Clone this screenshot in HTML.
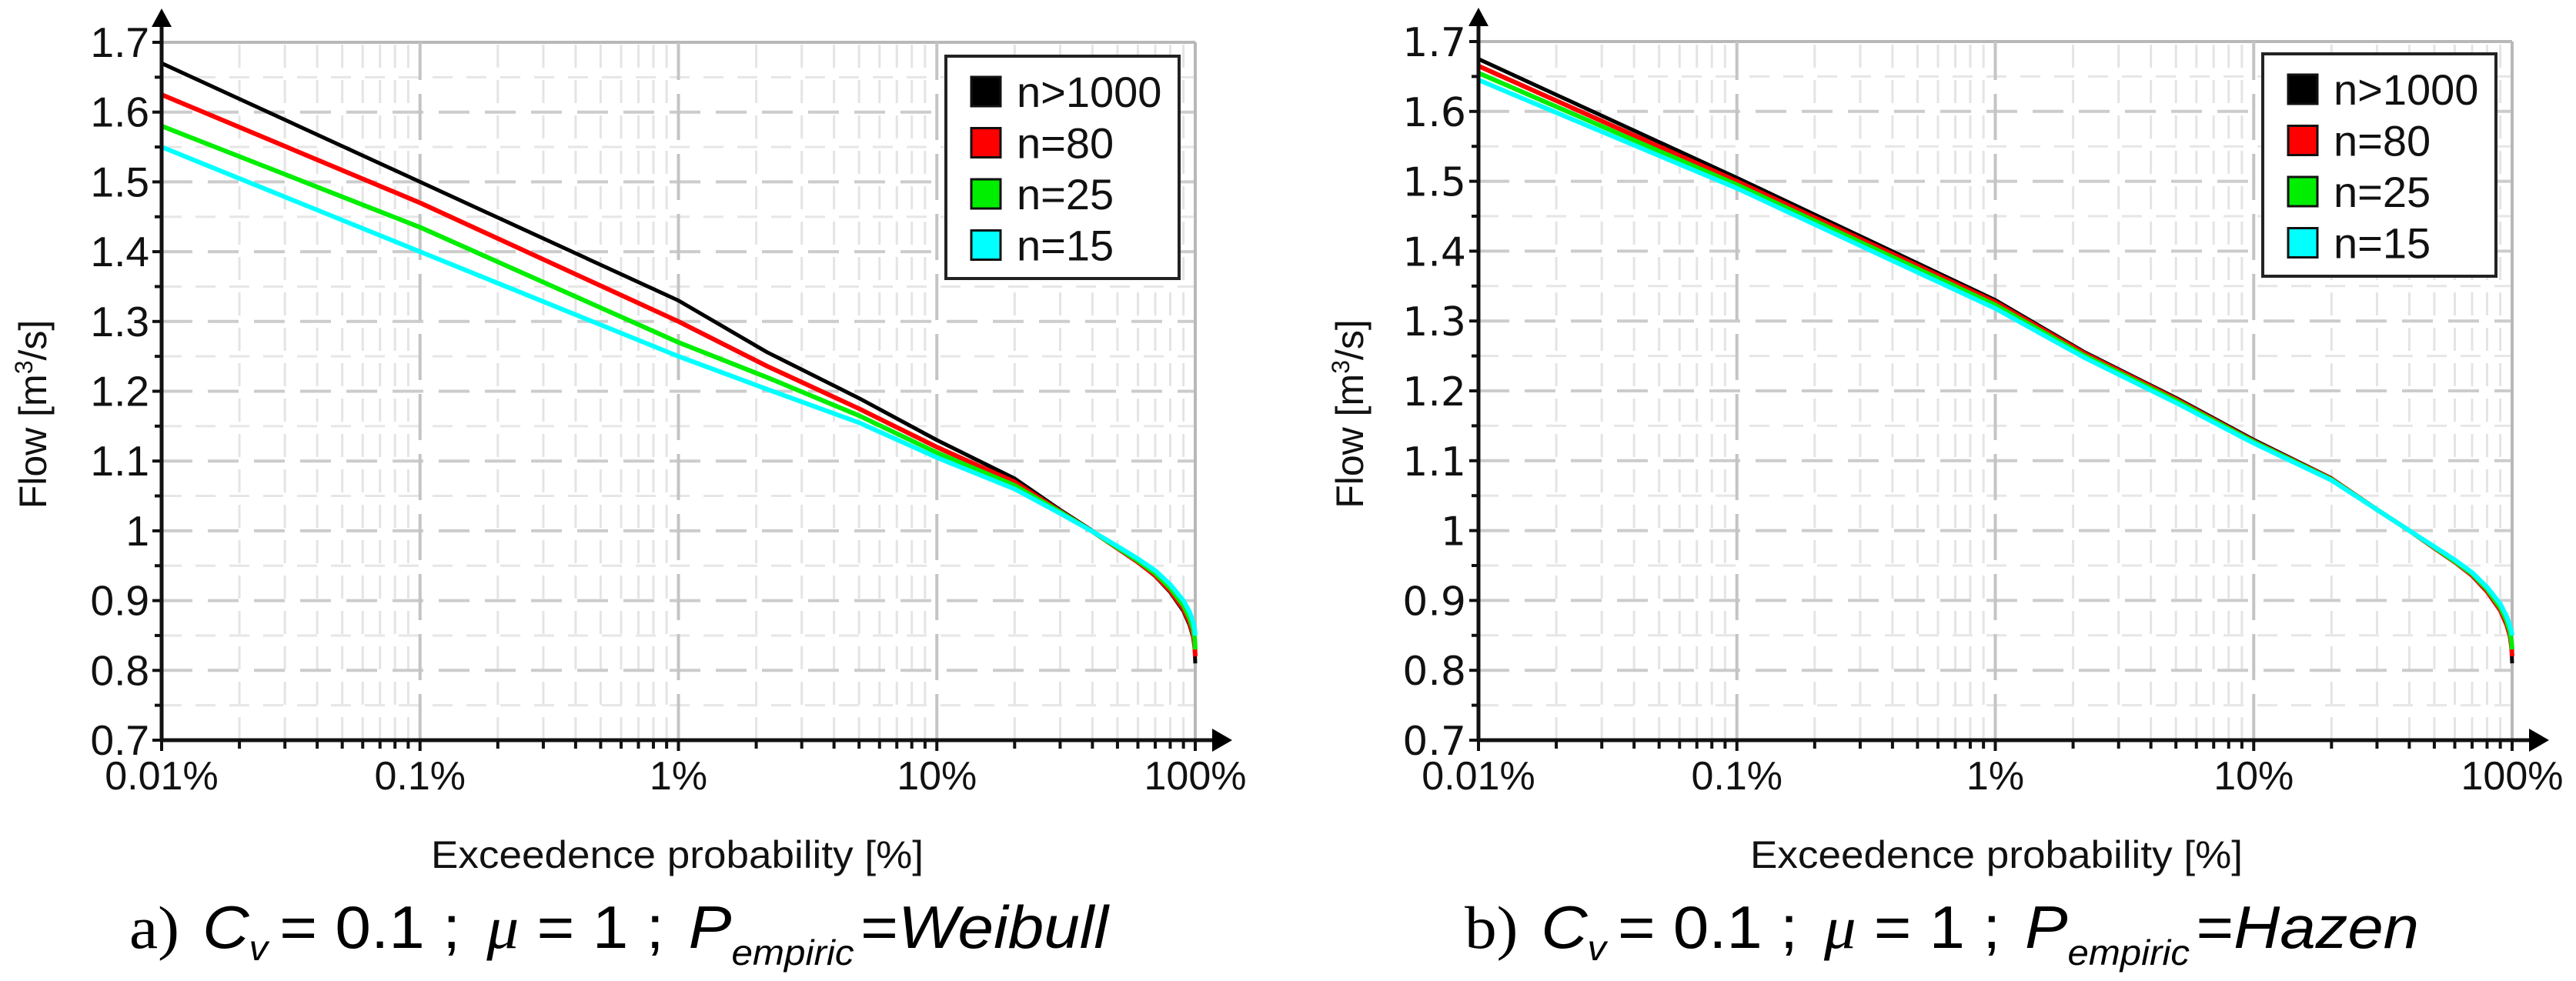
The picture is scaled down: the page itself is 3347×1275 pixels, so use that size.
<!DOCTYPE html>
<html><head><meta charset="utf-8"><style>
html,body{margin:0;padding:0;background:#fff;}
svg{display:block;}
</style></head><body>
<svg id="fig" xmlns="http://www.w3.org/2000/svg" width="3347" height="1275" viewBox="0 0 3347 1275"></svg>
<script>
const xTicks = [0.01, 0.1, 1, 10, 100];
const xTickLabels = ["0.01%", "0.1%", "1%", "10%", "100%"];
const yTicks = [0.7, 0.8, 0.9, 1.0, 1.1, 1.2, 1.3, 1.4, 1.5, 1.6, 1.7];
const yTickLabels = ["0.7", "0.8", "0.9", "1", "1.1", "1.2", "1.3", "1.4", "1.5", "1.6", "1.7"];
const seriesNames = ["n>1000", "n=80", "n=25", "n=15"];
const probs = [0.01, 0.1, 1, 2.2, 5, 10, 20, 30, 40, 50, 60, 70, 80, 90, 95, 98, 99.5, 100];
const weibullBlack = [1.67, 1.50, 1.33, 1.256, 1.19, 1.13, 1.075, 1.03, 1.00, 0.975, 0.955, 0.935, 0.912, 0.885, 0.865, 0.848, 0.83, 0.81];
const weibullRed = [1.625, 1.47, 1.30, 1.236, 1.175, 1.12, 1.07, 1.028, 0.999, 0.975, 0.955, 0.936, 0.914, 0.888, 0.869, 0.852, 0.835, 0.82];
const weibullGreen = [1.58, 1.435, 1.27, 1.22, 1.165, 1.112, 1.065, 1.027, 0.999, 0.976, 0.957, 0.939, 0.918, 0.893, 0.875, 0.86, 0.845, 0.83];
const weibullCyan = [1.55, 1.40, 1.25, 1.203, 1.155, 1.105, 1.06, 1.025, 0.999, 0.978, 0.96, 0.943, 0.923, 0.90, 0.884, 0.87, 0.858, 0.85];
const hazenBlack = [1.675, 1.505, 1.33, 1.256, 1.19, 1.13, 1.075, 1.03, 1.00, 0.975, 0.955, 0.935, 0.912, 0.885, 0.865, 0.848, 0.83, 0.81];
const hazenRed = [1.665, 1.50, 1.327, 1.254, 1.188, 1.128, 1.074, 1.03, 1.0, 0.975, 0.955, 0.936, 0.913, 0.886, 0.867, 0.85, 0.833, 0.82];
const hazenGreen = [1.655, 1.495, 1.323, 1.251, 1.186, 1.127, 1.073, 1.03, 1.0, 0.976, 0.956, 0.938, 0.916, 0.89, 0.872, 0.856, 0.84, 0.83];
const hazenCyan = [1.645, 1.49, 1.318, 1.248, 1.183, 1.125, 1.072, 1.03, 1.0, 0.977, 0.958, 0.94, 0.919, 0.895, 0.878, 0.864, 0.855, 0.85];

const NS = "http://www.w3.org/2000/svg";
const svg = document.getElementById('fig');
const colors = ["#000000", "#ff0000", "#00ee00", "#00ffff"];
function mk(tag, attrs, parent) {
  const e = document.createElementNS(NS, tag);
  for (const k in attrs) e.setAttribute(k, attrs[k]);
  (parent || svg).appendChild(e);
  return e;
}

function panel(id, x0, x1, yTop, yBot, seriesList, lbFont, legX, legY, caption, capX, titleX, ylabRight) {
  const g = mk('g', {});
  
  
  const xs = v => x0 + (Math.log10(v) + 2) / 4 * (x1 - x0);
  const ys = v => yBot - (v - 0.7) / 1.0 * (yBot - yTop);
  for (let d = -2; d < 2; d++) for (let m = 2; m <= 9; m++) {
    const x = xs(m * Math.pow(10, d));
    const l = mk('line', {x1: x, x2: x, y1: yBot, y2: yTop, stroke: '#e4e4e4', 'stroke-width': 3, 'stroke-dasharray': '30 16'}, g);
    
    
  }
  for (let i = 0; i < yTicks.length - 1; i++) {
    const y = ys(yTicks[i] + 0.05);
    const l = mk('line', {x1: x0, x2: x1, y1: y, y2: y, stroke: '#e6e6e6', 'stroke-width': 3, 'stroke-dasharray': '26 18'}, g);
    
    
  }
  yTicks.forEach((v, i) => {
    const y = ys(v);
    if (i > 0) {
      const last = i === yTicks.length - 1;
      const l = mk('line', {x1: x0, x2: x1, y1: y, y2: y, stroke: last ? '#b8b8b8' : '#cccccc', 'stroke-width': 4, 'stroke-dasharray': last ? 'none' : '40 20'}, g);
      
      
    }
  });
  xTicks.forEach((v, i) => {
    const x = xs(v);
    if (i > 0) {
      const last = i === xTicks.length - 1;
      const l = mk('line', {x1: x, x2: x, y1: yBot, y2: yTop, stroke: last ? '#b8b8b8' : '#c4c4c4', 'stroke-width': 4, 'stroke-dasharray': last ? 'none' : '60 18'}, g);
      
      
    }
  });
  seriesList.forEach((vals, si) => {
    const pts = probs.map((p, k) => xs(p).toFixed(1) + ',' + ys(vals[k]).toFixed(1)).join(' ');
    const pl = mk('polyline', {points: pts, fill: 'none', stroke: colors[si], 'stroke-width': si === 0 ? 5 : 6, 'stroke-linejoin': 'round'}, g);
    
    
  });
  const ax = mk('path', {d: `M${x0},${yBot} H${x1 + 30} M${x0},${yBot} V${yTop - 28}`, stroke: '#111', 'stroke-width': 5, fill: 'none'}, g);
  
  
  mk('path', {d: `M${x1 + 48},${yBot} l-26,-15 v30 z M${x0},${yTop - 44} l-13,24 h26 z`, fill: '#000'}, g);
  yTicks.forEach((v, i) => {
    const y = ys(v);
    mk('line', {x1: x0 - 12, x2: x0, y1: y, y2: y, stroke: '#111', 'stroke-width': 4}, g);
    if (i < yTicks.length - 1) mk('line', {x1: x0 - 9, x2: x0, y1: ys(v + 0.05), y2: ys(v + 0.05), stroke: '#111', 'stroke-width': 4}, g);
    const t = mk('text', {x: ylabRight, y: y + 19, 'text-anchor': 'end', 'font-size': lbFont.size, 'font-family': lbFont.family, fill: '#111'}, g);
    t.textContent = yTickLabels[i];
    
    
  });
  for (let d = -2; d < 2; d++) for (let m = 1; m <= 9; m++) {
    const x = xs(m * Math.pow(10, d));
    mk('line', {x1: x, x2: x, y1: yBot, y2: yBot + (m === 1 ? 14 : 11), stroke: '#111', 'stroke-width': 4}, g);
  }
  mk('line', {x1: x1, x2: x1, y1: yBot, y2: yBot + 14, stroke: '#111', 'stroke-width': 4}, g);
  xTicks.forEach((v, i) => {
    const t = mk('text', {x: xs(v), y: yBot + 64, 'text-anchor': 'middle', 'font-size': 52, 'font-family': 'Liberation Sans, sans-serif', fill: '#111'}, g);
    t.textContent = xTickLabels[i];
    
    
  });
  const xt = mk('text', {x: titleX, y: yBot + 166, 'text-anchor': 'middle', 'font-size': 50, 'font-family': 'Liberation Sans, sans-serif', fill: '#111', textLength: 640, lengthAdjust: 'spacingAndGlyphs'}, g);
  xt.textContent = 'Exceedence probability [%]';
  
  
  const yt = mk('text', {x: 0, y: 0, transform: `translate(${x0 - 150},${(yTop + yBot) / 2 + 30}) rotate(-90)`, 'text-anchor': 'middle', 'font-size': 50, 'font-family': 'Liberation Sans, sans-serif', fill: '#111'}, g);
  yt.innerHTML = 'Flow [m<tspan font-size="32" dy="-18">3</tspan><tspan dy="18">/s]</tspan>';
  
  
  const lg = mk('g', {}, g);
  
  
  mk('rect', {x: legX, y: legY, width: 303, height: 289, fill: '#fff', stroke: '#222', 'stroke-width': 4}, lg);
  seriesNames.forEach((n, i) => {
    const cy = legY + 46 + i * 66.5;
    const sw = mk('rect', {x: legX + 33, y: cy - 19, width: 38, height: 38, fill: colors[i], stroke: '#111', 'stroke-width': 3}, lg);
    
    
    const t = mk('text', {x: legX + 92, y: cy + 20, 'font-size': 56, 'font-family': 'Liberation Sans, sans-serif', fill: '#111'}, lg);
    t.textContent = n;
    
    
  });
  const cp = mk('text', {x: capX, y: 1232, 'font-size': 78, 'font-family': 'Liberation Sans, sans-serif', fill: '#000', textLength: caption[2], lengthAdjust: 'spacingAndGlyphs'}, g);
  cp.innerHTML = `<tspan font-family="Liberation Serif, serif">${caption[0]})</tspan><tspan dx="28" font-style="italic">C</tspan><tspan font-size="46" dy="16" font-style="italic">v</tspan><tspan dy="-16" dx="14">= 0.1 ; </tspan><tspan dx="10" font-family="Liberation Serif, serif" font-style="italic">μ</tspan><tspan> = 1 ; </tspan><tspan dx="8" font-style="italic">P</tspan><tspan font-size="46" dy="22" font-style="italic">empiric</tspan><tspan dy="-22" dx="8">=</tspan><tspan font-style="italic">${caption[1]}</tspan>`;
  
  
}

panel('weibull', 210, 1553, 55, 962, [weibullBlack, weibullRed, weibullGreen, weibullCyan],
  {size: 55, family: 'Liberation Sans, sans-serif'}, 1229, 73, ['a', 'Weibull', 1272], 168, 880, 194);
panel('hazen', 1921, 3264, 54, 962, [hazenBlack, hazenRed, hazenGreen, hazenCyan],
  {size: 52, family: 'DejaVu Sans, sans-serif'}, 2940, 70, ['b', 'Hazen', 1240], 1903, 2594, 1905);
</script>
</body></html>
